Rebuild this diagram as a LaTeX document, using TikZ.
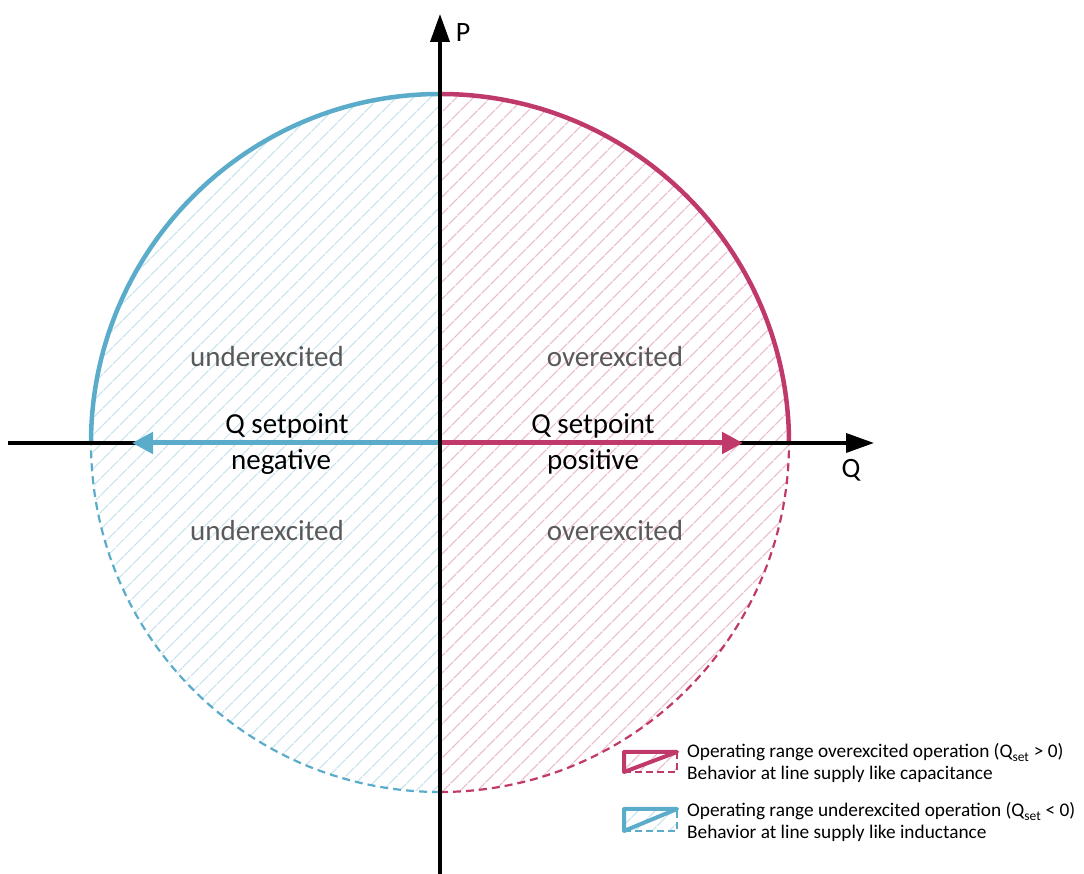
\documentclass[tikz,border=0pt]{standalone}
\usepackage{fontspec}
\setmainfont{Carlito}
\usetikzlibrary{arrows.meta,patterns.meta}
\definecolor{crim}{RGB}{192,57,107}
\definecolor{lblue}{RGB}{91,172,202}
\definecolor{lgray}{RGB}{89,89,89}
\tikzset{
  axis/.style={line width=3.6pt,-{Triangle[length=28pt,width=19pt]}},
  qarrow/.style={line width=5pt,-{Triangle[length=21pt,width=21pt]}},
  solidarc/.style={line width=4.5pt},
  dasharc/.style={line width=2.2pt,dash pattern=on 8pt off 5pt},
  hatchred/.style={pattern={Lines[angle=45,distance=13pt,line width=1.4pt]},pattern color=crim!35},
  hatchblue/.style={pattern={Lines[angle=45,distance=13pt,line width=1.4pt]},pattern color=lblue!35},
  region/.style={font=\fontsize{29}{34}\selectfont,text=lgray},
  qlabel/.style={font=\fontsize{29}{34}\selectfont,text=black},
  axlabel/.style={font=\fontsize{28}{32}\selectfont},
  legtext/.style={font=\fontsize{19.3}{22}\selectfont,anchor=base west,inner sep=0pt},
}
\begin{document}
\begin{tikzpicture}[x=1pt,y=1pt]
\useasboundingbox (0,0) rectangle (1084,874);
\coordinate (O) at (440,431);
\coordinate (Top) at (440,780);
\coordinate (Bot) at (440,82);
% hatched half discs
\fill[hatchred] (Bot) arc[start angle=-90,end angle=90,radius=349] -- cycle;
\fill[hatchblue] (Top) arc[start angle=90,end angle=270,radius=349] -- cycle;
% dashed lower arcs
\draw[dasharc,crim] (Bot) arc[start angle=-90,end angle=0,radius=349];
\draw[dasharc,lblue] (Bot) arc[start angle=270,end angle=180,radius=349];
% solid upper arcs
\draw[solidarc,crim] (Top) arc[start angle=90,end angle=0,radius=349];
\draw[solidarc,lblue] (Top) arc[start angle=90,end angle=180,radius=349];
% horizontal axis
\coordinate (QL) at (8,431);
\coordinate (QR) at (874,431);
\draw[axis] (QL) -- (QR);
% Q setpoint arrows
\coordinate (QP) at (743,431);
\coordinate (QN) at (132,431);
\draw[qarrow,crim] (O) -- (QP);
\draw[qarrow,lblue] (O) -- (QN);
% vertical axis
\coordinate (PB) at (440,0);
\coordinate (PT) at (440,860);
\draw[axis] (PB) -- (PT);
% axis labels
\node[axlabel] (Plab) at (463,841) {P};
\node[axlabel] (Qlab) at (851,404) {Q};
% region labels
\node[region] (u1) at (267,517) {underexcited};
\node[region] (u2) at (267,343) {underexcited};
\node[region] (o1) at (615,517) {overexcited};
\node[region] (o2) at (615,343) {overexcited};
% setpoint labels
\node[qlabel] (qp1) at (593,448) {Q setpoint};
\node[qlabel] (qp2) at (593,412) {positive};
\node[qlabel] (qn1) at (287,448) {Q setpoint};
\node[qlabel] (qn2) at (281,412) {negative};
% legend icons
\coordinate (rBL) at (624,102);
\coordinate (rTL) at (624,122);
\coordinate (rTR) at (677,122);
\coordinate (rBR) at (677,102);
\fill[hatchred] (rBL) rectangle (rTR);
\draw[line width=2.2pt,crim,dash pattern=on 7pt off 4pt] (rBL) -- (rBR) -- (rTR);
\draw[line width=4pt,crim,line join=round,line cap=round] (rTR) -- (rTL) -- (rBL) -- cycle;
\coordinate (bBL) at (624,43);
\coordinate (bTL) at (624,65);
\coordinate (bTR) at (677,65);
\coordinate (bBR) at (677,43);
\fill[hatchblue] (bBL) rectangle (bTR);
\draw[line width=2.2pt,lblue,dash pattern=on 7pt off 4pt] (bBL) -- (bBR) -- (bTR);
\draw[line width=4pt,lblue,line join=round,line cap=round] (bTR) -- (bTL) -- (bBL) -- cycle;
% legend text
\node[legtext] (l1) at (687,116) {Operating range overexcited operation (Q\textsubscript{set} > 0)};
\node[legtext] (l2) at (687,94) {Behavior at line supply like capacitance};
\node[legtext] (l3) at (687,57) {Operating range underexcited operation (Q\textsubscript{set} < 0)};
\node[legtext] (l4) at (687,35) {Behavior at line supply like inductance};
\end{tikzpicture}
\end{document}
